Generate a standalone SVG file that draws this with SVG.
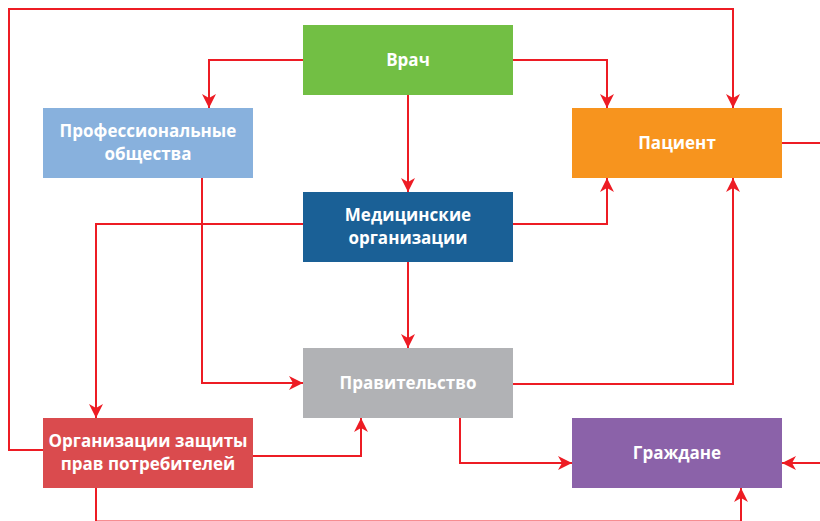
<svg xmlns="http://www.w3.org/2000/svg" width="820" height="521" viewBox="0 0 820 521">
<style>
.lbl{font-family:"Open Sans","Liberation Sans",sans-serif;font-weight:bold;font-size:17px;fill:#ffffff;text-anchor:middle}
.c{fill:none;stroke:#ED1C24;stroke-width:2;marker-end:url(#ah)}
.n{fill:none;stroke:#ED1C24;stroke-width:2}
</style>
<defs>
<marker id="ah" markerUnits="userSpaceOnUse" markerWidth="14" markerHeight="14" viewBox="0 0 14 14" refX="14" refY="7" orient="auto">
<path d="M0,0 L14,7 L0,14 L4,7 z" fill="#ED1C24"/>
</marker>
</defs>
<rect width="820" height="521" fill="#ffffff"/>
<g id="connectors">
<path class="c" d="M43,450 H9 V9 H733 V108"/>
<path class="c" d="M303,60 H209 V108"/>
<path class="c" d="M513,60 H607 V108"/>
<path class="c" d="M408,95 V192"/>
<path class="n" d="M782,143 H820"/>
<path class="c" d="M513,224 H607 V178"/>
<path class="c" d="M513,384 H733 V178"/>
<path class="c" d="M202,178 V383 H303"/>
<path class="c" d="M303,224 H96 V418"/>
<path class="c" d="M408,262 V348"/>
<path class="c" d="M253,456 H361 V418"/>
<path class="c" d="M460,418 V463 H572"/>
<path class="c" d="M820,463 H782"/>
<path class="c" d="M96,488 V521.6 H741 V488"/>
</g>
<g id="vrach"><rect x="303" y="25" width="210" height="70" fill="#72BF44"/><text class="lbl" x="408" y="66">Врач</text></g>
<g id="prof"><rect x="43" y="108" width="210" height="70" fill="#88B1DD"/><text class="lbl" x="148" y="137">Профессиональные</text><text class="lbl" x="148" y="160">общества</text></g>
<g id="pacient"><rect x="572" y="108" width="210" height="70" fill="#F7941E"/><text class="lbl" x="677" y="149">Пациент</text></g>
<g id="med"><rect x="303" y="192" width="210" height="70" fill="#1A6096"/><text class="lbl" x="408" y="221">Медицинские</text><text class="lbl" x="408" y="244">организации</text></g>
<g id="prav"><rect x="303" y="348" width="210" height="70" fill="#B1B2B5"/><text class="lbl" x="408" y="389">Правительство</text></g>
<g id="org"><rect x="43" y="418" width="210" height="70" fill="#DA4B4E"/><text class="lbl" x="148" y="447">Организации защиты</text><text class="lbl" x="148" y="470">прав потребителей</text></g>
<g id="grazh"><rect x="572" y="418" width="210" height="70" fill="#8B62A9"/><text class="lbl" x="677" y="459">Граждане</text></g>
</svg>
